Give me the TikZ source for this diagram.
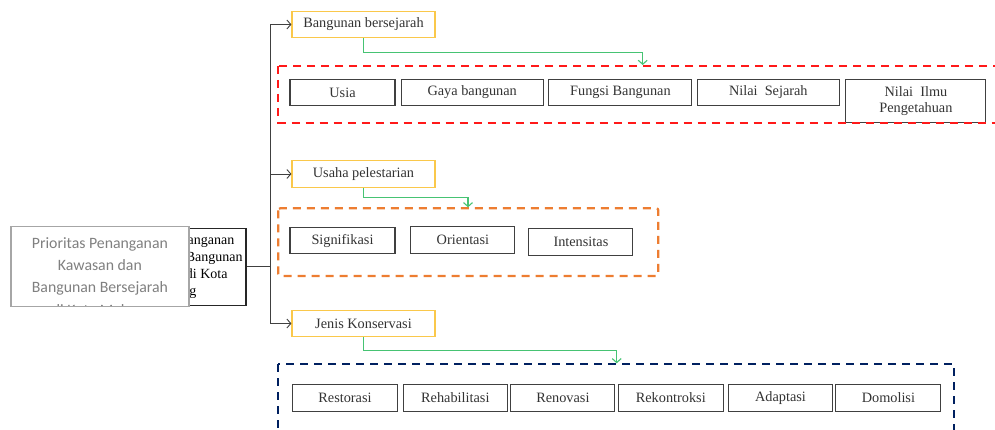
\documentclass[tikz,border=0pt]{standalone}
\usepackage{fontspec}
\setmainfont{Liberation Serif}
\newfontfamily\calibri{Carlito}
\usepackage{xcolor}
\usepackage{tikz}
\usetikzlibrary{arrows.meta}

\definecolor{kuning}{RGB}{250,200,75}
\definecolor{hijau}{RGB}{70,195,115}
\definecolor{merah}{RGB}{255,25,25}
\definecolor{oranye}{RGB}{237,125,49}
\definecolor{biru}{RGB}{0,32,96}

\begin{document}
\begin{tikzpicture}[x=1pt,y=-1pt,>={Straight Barb[length=4pt,width=9pt]},
    kotak/.style={draw=black!75,line width=1.1pt,fill=white,inner sep=0pt,align=center,
        text=black!80,font=\fontsize{14.3}{16.5}\selectfont,minimum height=26.5pt},
    judul/.style={kotak,draw=kuning,minimum width=143pt},
    panah/.style={->,draw=black!75,line width=0.9pt},
    hubung/.style={->,draw=hijau,line width=1.1pt},
    bingkai/.style={line width=2.2pt,dash pattern=on 8pt off 6pt}]
    \useasboundingbox (0,0) rectangle (995,430);

    % kotak utama di kiri, yang abu-abu menimpa yang hitam
    \node[draw=black!85,line width=1.1pt,minimum width=142pt,minimum height=77pt,align=center,
        font=\fontsize{14}{17}\selectfont] (prio) at (175,266.7)
        {Prioritas Penanganan\\Kawasan dan Bangunan\\Bersejarah di Kota\\Malang};
    \node[draw=black!35,line width=1.2pt,fill=white,minimum width=178pt,minimum height=80pt,
        path picture={\node[text=black!50,align=center,font=\calibri\fontsize{15.8}{22.3}\selectfont]
            at ([yshift=-11pt]path picture bounding box.center)
            {Prioritas Penanganan\\Kawasan dan\\Bangunan Bersejarah\\di Kota Malang};}]
        (priodepan) at (99.9,266.7) {};

    % tiga cabang
    \node[judul] (sejarah) at (363.5,24.5) {Bangunan bersejarah};
    \node[judul] (usaha) at (363.5,174) {Usaha pelestarian};
    \node[judul] (jenis) at (363.5,323.5) {Jenis Konservasi};
    \coordinate (cabang) at (270,266.7);
    \draw[line width=0.9pt,draw=black!75] (prio.east) -- (cabang);
    \draw[panah] (cabang) |- (sejarah);
    \draw[panah] (cabang) |- (usaha);
    \draw[panah] (cabang) |- (jenis);

    % isi tiap cabang
    \node[kotak,minimum width=105pt] (usia) at (342.5,92.5) {Usia};
    \node[kotak,minimum width=142pt] (gaya) at (472.2,92.5) {Gaya bangunan};
    \node[kotak,minimum width=143pt] (fungsi) at (620.4,92.5) {Fungsi Bangunan};
    \node[kotak,minimum width=142pt] (nilaisejarah) at (768.3,92.5) {Nilai\ \ Sejarah};
    \node[kotak,minimum width=140pt,minimum height=43.4pt] (nilaiilmu) at (915.9,101)
        {Nilai\ \ Ilmu\\Pengetahuan};

    \node[kotak,minimum width=105pt] (signifikasi) at (342.5,240.7) {Signifikasi};
    \node[kotak,minimum width=104pt] (orientasi) at (462.9,240) {Orientasi};
    \node[kotak,minimum width=104pt] (intensitas) at (580.9,242.2) {Intensitas};

    \node[kotak,minimum width=105pt] (restorasi) at (345,397.9) {Restorasi};
    \node[kotak,minimum width=104pt] (rehabilitasi) at (455.3,397.9) {Rehabilitasi};
    \node[kotak,minimum width=104pt] (renovasi) at (562.9,397.9) {Renovasi};
    \node[kotak,minimum width=105pt] (rekontroksi) at (670.8,397.9) {Rekontroksi};
    \node[kotak,minimum width=104pt] (adaptasi) at (780.5,397.9) {Adaptasi};
    \node[kotak,minimum width=105pt] (domolisi) at (888.4,397.9) {Domolisi};

    % bingkai putus-putus
    \draw[bingkai,merah] (278.3,66) rectangle (1010,122.7);
    \draw[bingkai,oranye,rounded corners=2pt] (278.3,208.3) rectangle (658.3,276);
    \draw[bingkai,biru] (278.3,364.3) rectangle (954.3,445);

    % panah hijau ke tiap bingkai
    \coordinate (kemerah) at (642.7,65);
    \coordinate (keoranye) at (468,207.3);
    \coordinate (kebiru) at (616.7,363.3);
    \draw[hubung] (sejarah.south) -- ++(0,14.2) -| (kemerah);
    \draw[hubung] (usaha.south) -- ++(0,9.7) -| (keoranye);
    \draw[hubung] (jenis.south) -- ++(0,13.5) -| (kebiru);
\end{tikzpicture}
\end{document}
